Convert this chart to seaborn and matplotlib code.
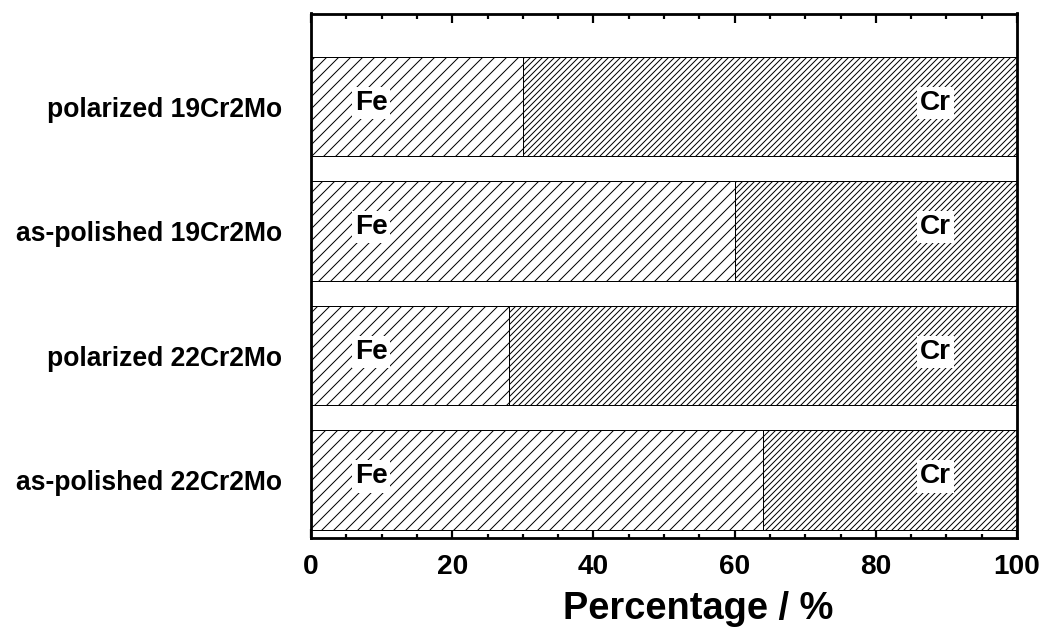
import matplotlib
matplotlib.use("Agg")
import matplotlib.pyplot as plt
import seaborn as sns
import pandas as pd
import numpy as np

samples = ["polarized 19Cr2Mo", "as-polished 19Cr2Mo", "polarized 22Cr2Mo", "as-polished 22Cr2Mo"]
fe_pct = [30, 60, 28, 64]
cr_pct = [70, 40, 72, 36]
fe_label_x = 8.5
cr_label_x = 88.5

sns.set_theme(style="ticks")
plt.rcParams["font.family"] = ["Liberation Sans", "DejaVu Sans"]
plt.rcParams["font.weight"] = "bold"
plt.rcParams["hatch.linewidth"] = 1.0
for k in ["text.color", "axes.labelcolor", "xtick.color", "ytick.color", "axes.edgecolor"]:
    plt.rcParams[k] = "black"

df = pd.DataFrame({"sample": samples, "Fe": fe_pct, "Cr": cr_pct})
df["total"] = df["Fe"] + df["Cr"]

DPI = 72
W, H = 1047, 636
fig = plt.figure(figsize=(W / DPI, H / DPI), dpi=DPI)
ax_l, ax_r, ax_t, ax_b = 311, 1017, 13.5, 537.5
ax = fig.add_axes([ax_l / W, 1 - ax_b / H, (ax_r - ax_l) / W, (ax_b - ax_t) / H])

sns.barplot(data=df, x="total", y="sample", order=samples, orient="h",
            color="white", saturation=1, edgecolor="black", linewidth=1.0,
            width=0.8, ax=ax, errorbar=None)
for p in ax.containers[0]:
    p.set_hatch("////")
sns.barplot(data=df, x="Fe", y="sample", order=samples, orient="h",
            color="white", saturation=1, edgecolor="black", linewidth=1.0,
            width=0.8, ax=ax, errorbar=None)
for p in ax.containers[1]:
    p.set_hatch("//")

for i, s in enumerate(samples):
    ax.text(fe_label_x, i - 0.03, "Fe", ha="center", va="center", fontsize=28, fontweight="bold",
            color="black", bbox=dict(facecolor="white", edgecolor="none", pad=3))
    ax.text(cr_label_x, i - 0.03, "Cr", ha="center", va="center", fontsize=28, fontweight="bold",
            color="black", bbox=dict(facecolor="white", edgecolor="none", pad=3))

ax.set_xlim(0, 100)
ax.set_ylim(3.46, -0.747)
ax.set_xticks([0, 20, 40, 60, 80, 100])
ax.set_xticks(np.arange(0, 101, 5), minor=True)
ax.tick_params(axis="x", which="major", direction="in", length=9, width=2.2,
               top=True, labelsize=28, pad=17)
ax.tick_params(axis="x", which="minor", direction="in", length=4.5, width=2.2, top=True)
ax.tick_params(axis="y", length=0, labelsize=26.5, pad=29)
for lab in ax.get_xticklabels() + ax.get_yticklabels():
    lab.set_fontweight("bold")
ax.set_xlabel("Percentage / %", fontsize=38, fontweight="bold")
ax.xaxis.set_label_coords(0.548, -0.102)
ax.set_ylabel("")
for sp in ax.spines.values():
    sp.set_visible(True)
    sp.set_linewidth(2.8)
    sp.set_color("black")

fig.savefig("out.png", dpi=DPI, facecolor="white")
